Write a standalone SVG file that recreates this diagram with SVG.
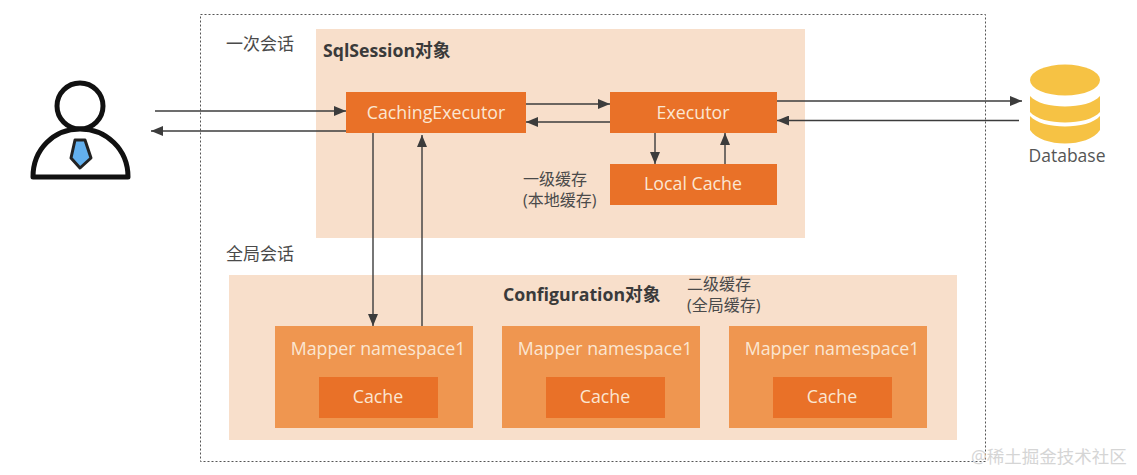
<svg xmlns="http://www.w3.org/2000/svg" width="1137" height="475" viewBox="0 0 1137 475">
<defs>
<marker id="arr" markerUnits="userSpaceOnUse" markerWidth="13" markerHeight="10" refX="12" refY="5" orient="auto"><path d="M0 0L12 5L0 10Z" fill="#3c3c3c"/></marker>
</defs>
<style>
text{font-family:"Open Sans","Noto Sans CJK SC",sans-serif}
.o{fill:#e97128}
.m{fill:#ef9650}
.p{fill:#f8dfcb}
.w{fill:#fbe6d2;font-size:17.800px;text-anchor:middle}
.l{fill:#4a4a4a;font-size:16px}
.g{fill:#4a4a4a;font-size:17px}
.b{fill:#3a3a3a;font-size:17.700px;font-weight:700}
.c{fill:none;stroke:#3c3c3c;stroke-width:1.4}
.a{marker-end:url(#arr)}
.y{fill:#f6c244}
</style>
<rect width="1137" height="475" fill="#fff"/>
<rect id="frame" x="200.500" y="14.500" width="785" height="447" fill="none" stroke="#555" stroke-width="1" stroke-dasharray="2 2"/>
<g id="sqlsession"><rect class="p" x="316" y="29" width="489" height="209"/><text class="b" x="323" y="57">SqlSession对象</text></g>
<g id="configuration"><rect class="p" x="229" y="275" width="728" height="165"/><text class="b" x="503" y="301">Configuration对象</text></g>
<text class="g" x="226" y="50">一次会话</text>
<text class="g" x="226" y="260">全局会话</text>
<text class="l" x="523" y="185">一级缓存</text>
<text class="l" x="523" y="206">(本地缓存)</text>
<text class="l" x="687" y="290">二级缓存</text>
<text class="l" x="687" y="311">(全局缓存)</text>
<g id="caching"><rect class="o" x="346" y="92" width="180" height="41"/><text class="w" x="436" y="119">CachingExecutor</text></g>
<g id="executor"><rect class="o" x="610" y="92" width="167" height="41"/><text class="w" x="693" y="119">Executor</text></g>
<g id="localcache"><rect class="o" x="610" y="164" width="167" height="41"/><text class="w" x="693" y="190">Local Cache</text></g>
<g id="mapper1"><rect class="m" x="275" y="326" width="198" height="102"/><text class="w" x="378" y="355">Mapper namespace1</text><rect class="o" x="319" y="377" width="119" height="41"/><text class="w" x="378" y="403">Cache</text></g>
<g id="mapper2"><rect class="m" x="502" y="326" width="198" height="102"/><text class="w" x="605" y="355">Mapper namespace1</text><rect class="o" x="546" y="377" width="119" height="41"/><text class="w" x="605" y="403">Cache</text></g>
<g id="mapper3"><rect class="m" x="729" y="326" width="198" height="102"/><text class="w" x="832" y="355">Mapper namespace1</text><rect class="o" x="773" y="377" width="119" height="41"/><text class="w" x="832" y="403">Cache</text></g>
<g id="connectors">
<path class="c a" d="M155 111H346"/>
<path class="c a" d="M346 131H151"/>
<path class="c a" d="M526 104H610"/>
<path class="c a" d="M610 122H526"/>
<path class="c a" d="M655 133V164"/>
<path class="c a" d="M725 164V133"/>
<path class="c a" d="M777 101H1022"/>
<path class="c a" d="M1019 120.500H777"/>
<path class="c a" d="M373 133V326"/>
<path class="c a" d="M422 326V135"/>
</g>
<g id="user">
<circle cx="80" cy="106" r="23" fill="#fff" stroke="#111" stroke-width="5"/>
<path d="M33 177C33 149 54 129 80 129C106 129 128 149 128 177Z" fill="#fff" stroke="#111" stroke-width="5" stroke-linejoin="round"/>
<path d="M75 140H85L91 158L80 168L71 158Z" fill="#63b0ee" stroke="#222" stroke-width="3" stroke-linejoin="round"/>
</g>
<g id="database">
<path class="y" d="M1030 96C1042 110 1088 110 1100 96V112C1088 126 1042 126 1030 112Z"/>
<path class="y" d="M1030 116C1042 130 1088 130 1100 116V130C1088 148 1042 148 1030 130Z"/>
<ellipse class="y" cx="1065" cy="80" rx="35" ry="15.500"/>
<text x="1067" y="162" font-size="17.500" fill="#555" text-anchor="middle">Database</text>
</g>
<text x="971" y="463" font-size="17.500" fill="#d5d5d5">@稀土掘金技术社区</text>
</svg>
